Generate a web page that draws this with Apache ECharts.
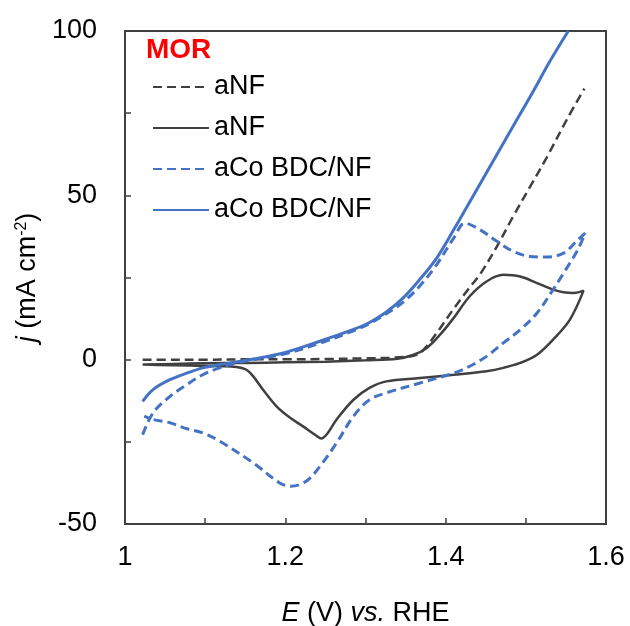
<!DOCTYPE html>
<html>
<head>
<meta charset="utf-8">
<script src="https://cdn.jsdelivr.net/npm/echarts@6/dist/echarts.min.js"></script>
<style>html,body{margin:0;padding:0;background:#fff}#c{width:630px;height:626px}</style>
</head>
<body>
<div id="c"></div>
<script>
// ---- Data ----
const xTicks = [1, 1.2, 1.4, 1.6];
const yTicks = [-50, 0, 50, 100];
const legendLabels = ['aNF', 'aNF', 'aCo BDC/NF', 'aCo BDC/NF'];

// aNF, dashed (linear sweep)
const aNF_dash_E = [1.022, 1.06, 1.10, 1.15, 1.20, 1.25, 1.30, 1.33, 1.35, 1.36, 1.368, 1.376, 1.39, 1.41, 1.43, 1.443, 1.464, 1.484, 1.505, 1.526, 1.551, 1.573];
const aNF_dash_j = [0, 0, 0, 0.1, 0.1, 0.2, 0.4, 0.6, 0.9, 1.2, 2.0, 4.0, 8.5, 15.5, 22, 26, 34.5, 43.5, 52.5, 61.5, 73, 82.5];

// aNF, solid (cyclic sweep: forward then reverse)
const aNF_solid_E = [1.022, 1.06, 1.10, 1.15, 1.20, 1.25, 1.30, 1.34, 1.36, 1.376, 1.393, 1.41, 1.43, 1.451, 1.472, 1.493, 1.514, 1.534, 1.547, 1.56, 1.572,
  1.555, 1.534, 1.514, 1.493, 1.472, 1.451, 1.41, 1.368, 1.326, 1.305, 1.285, 1.264, 1.252, 1.245, 1.238, 1.222, 1.206, 1.189, 1.172, 1.16, 1.151, 1.139, 1.118, 1.08, 1.04, 1.022];
const aNF_solid_j = [-1.5, -1.3, -1.1, -1.0, -0.8, -0.6, -0.2, 0.3, 1.5, 3.5, 7.6, 12.7, 19.3, 23.8, 25.8, 25.3, 23.3, 21.3, 20.5, 20.3, 21,
  12.2, 6.1, 1.5, -1, -2.5, -3.5, -4.6, -5.6, -6.6, -8.6, -12.2, -18.2, -22.6, -24, -23, -20.3, -17.7, -14.2, -9.1, -5.1, -3, -2.2, -2, -1.8, -1.6, -1.5];

// aCo BDC/NF, dashed (cyclic sweep: forward then reverse)
const aCo_dash_E = [1.022, 1.035, 1.056, 1.077, 1.097, 1.118, 1.139, 1.16, 1.20, 1.243, 1.285, 1.305, 1.326, 1.347, 1.368, 1.389, 1.41, 1.424, 1.443, 1.464, 1.484, 1.505, 1.526, 1.547, 1.563, 1.574,
  1.565, 1.555, 1.545, 1.534, 1.514, 1.493, 1.472, 1.451, 1.43, 1.41, 1.368, 1.326, 1.305, 1.285, 1.264, 1.243, 1.226, 1.207, 1.193, 1.16, 1.118, 1.097, 1.077, 1.056, 1.035, 1.024];
const aCo_dash_j = [-22.8, -16.2, -11.2, -7.6, -4.6, -2.5, -1.0, 0, 1.8, 5.0, 8.8, 11.0, 14.0, 17.5, 22.5, 29, 37, 41.5, 39.5, 36, 33, 31.4, 31.2, 32.4, 36, 38.5,
  33.5, 29.4, 25.5, 21.3, 14.2, 9.1, 5.1, 1.0, -2, -4.1, -7.1, -10.1, -12.2, -17.2, -25.3, -32.5, -37, -38.5, -37.5, -31.4, -24.8, -22.3, -21.0, -19.2, -18.2, -17.2];

// aCo BDC/NF, solid (linear sweep)
const aCo_solid_E = [1.022, 1.035, 1.056, 1.077, 1.097, 1.118, 1.16, 1.20, 1.243, 1.285, 1.305, 1.326, 1.347, 1.368, 1.389, 1.41, 1.43, 1.45, 1.47, 1.49, 1.51, 1.53, 1.553];
const aCo_solid_j = [-12.7, -9.1, -6.1, -4.1, -2.5, -1.5, 0.2, 2.2, 5.6, 9.2, 11.3, 14.5, 18.8, 24.5, 31, 39.5, 48, 56.5, 65, 73.5, 82, 90.8, 100];

// ---- Chart ----
const zip = (a, b) => a.map((v, i) => [v, b[i]]);
const FONT = '"Liberation Sans", Arial, sans-serif';
const BLACK = '#404040', BLUE = '#4472C4';
const seriesIds = ['s1', 's2', 's3', 's4'];

const chart = echarts.init(document.getElementById('c'));
const mk = (id, data, color, dashed, width) => ({
  name: id, type: 'line', data, symbol: 'none', smooth: 0.35,
  lineStyle: { color, width, type: dashed ? [9, 5] : 'solid' },
  itemStyle: { color }, z: 3
});
chart.setOption({
  animation: false,
  title: {
    text: 'MOR', left: 146, top: 36, padding: 0,
    textStyle: { color: '#FF0000', fontSize: 28, fontWeight: 'bold', fontFamily: FONT }
  },
  legend: {
    orient: 'vertical', left: 152, top: 73, padding: 0,
    itemWidth: 56, itemHeight: 14, itemGap: 13,
    data: seriesIds,
    itemStyle: { opacity: 0 },
    formatter: n => legendLabels[seriesIds.indexOf(n)],
    textStyle: { fontSize: 27, color: '#000', fontFamily: FONT, lineHeight: 28, padding: [0, 0, 0, 0] },
    selectedMode: false
  },
  grid: { left: 125, right: 24, top: 31, bottom: 102, show: true, borderColor: BLACK, borderWidth: 2, outerBoundsMode: 'none', containLabel: false },
  xAxis: {
    type: 'value', min: 1, max: 1.6, interval: 0.1,
    axisLine: { show: true, onZero: false, lineStyle: { color: BLACK, width: 2 } },
    axisTick: { show: true, inside: true, length: 6, lineStyle: { color: BLACK, width: 1.5 } },
    splitLine: { show: false },
    axisLabel: {
      margin: 20, fontSize: 27, color: '#000', fontFamily: FONT,
      formatter: v => { const s = +v.toFixed(1); return xTicks.some(t => Math.abs(t - s) < 1e-6) ? String(s) : ''; }
    },
    name: '{i|E} (V) {i|vs.} RHE', nameLocation: 'middle', nameGap: 76,
    nameTextStyle: {
      fontSize: 27, color: '#000', fontFamily: FONT,
      rich: { i: { fontStyle: 'italic', fontSize: 27, fontFamily: FONT, color: '#000' } }
    }
  },
  yAxis: {
    type: 'value', min: -50, max: 100, interval: 25,
    axisLine: { show: true, onZero: false, lineStyle: { color: BLACK, width: 2 } },
    axisTick: { show: true, inside: true, length: 6, lineStyle: { color: BLACK, width: 1.5 } },
    splitLine: { show: false },
    axisLabel: {
      margin: 28, fontSize: 27, color: '#000', fontFamily: FONT,
      formatter: v => yTicks.includes(v) ? String(v) : ''
    },
    name: '{i|j} (mA cm{sup|-2})', nameLocation: 'middle', nameGap: 76,
    nameTextStyle: {
      fontSize: 27, color: '#000', fontFamily: FONT,
      rich: {
        i: { fontStyle: 'italic', fontSize: 27, fontFamily: FONT, color: '#000' },
        sup: { fontSize: 16, fontFamily: FONT, color: '#000', verticalAlign: 'top', lineHeight: 27 }
      }
    }
  },
  series: [
    mk('s1', zip(aNF_dash_E, aNF_dash_j), BLACK, true, 2.5),
    mk('s2', zip(aNF_solid_E, aNF_solid_j), BLACK, false, 2.5),
    mk('s3', zip(aCo_dash_E, aCo_dash_j), BLUE, true, 3),
    mk('s4', zip(aCo_solid_E, aCo_solid_j), BLUE, false, 3)
  ]
});
</script>
</body>
</html>
